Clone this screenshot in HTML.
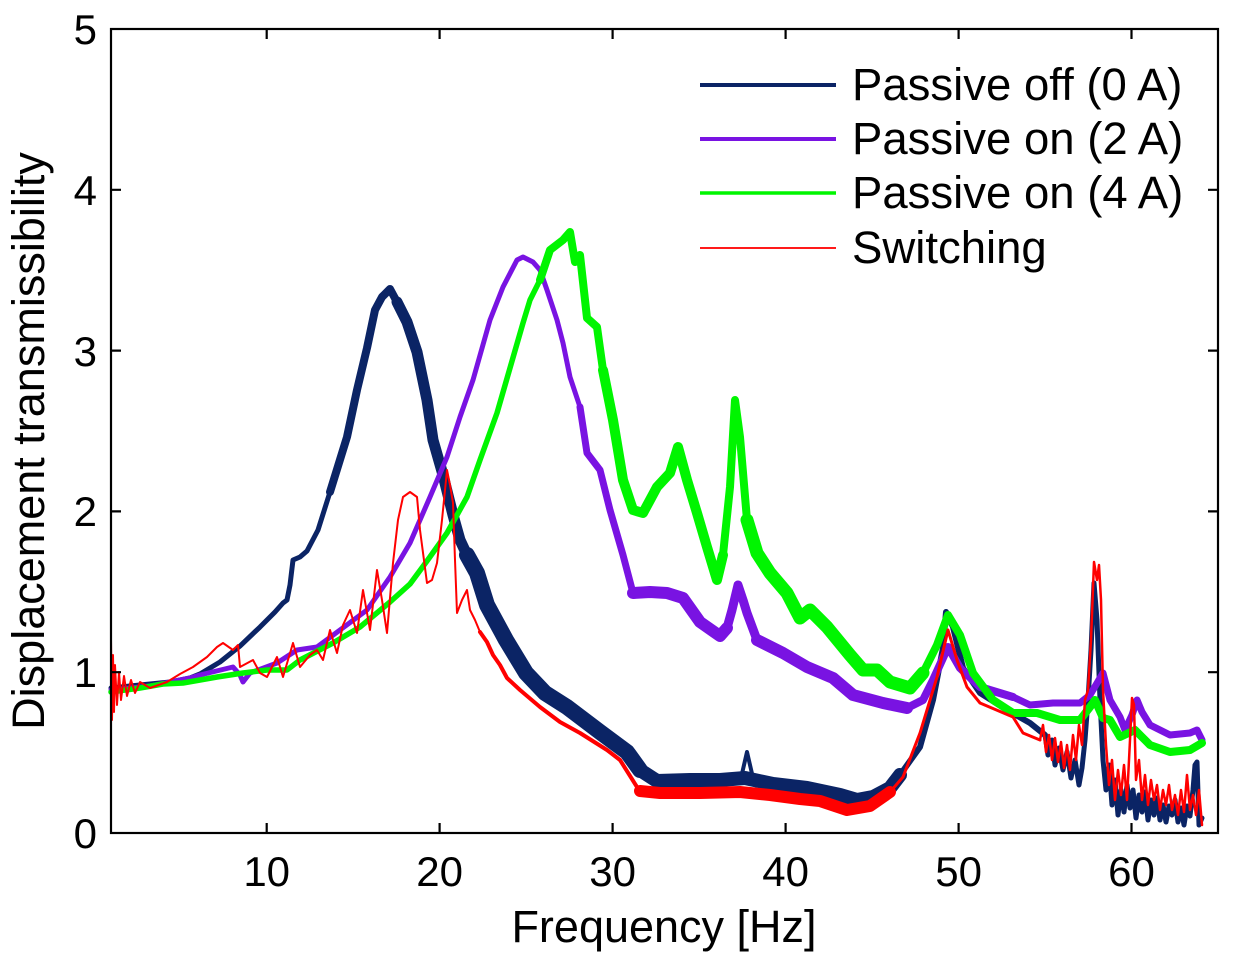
<!DOCTYPE html>
<html><head><meta charset="utf-8"><style>
html,body{margin:0;padding:0;background:#fff;}
svg{display:block;}
text{font-family:"Liberation Sans",Arial,sans-serif;fill:#000;}
</style></head><body>
<svg width="1233" height="965" viewBox="0 0 1233 965" xmlns="http://www.w3.org/2000/svg">
<rect width="1233" height="965" fill="#fff"/>
<g fill="none" stroke-linejoin="round" stroke-linecap="round">
<!-- navy: Passive off -->
<g stroke="#0b2465">
<polyline stroke-width="5" points="111,688 130,686 150,684 170,682 190,678 200,674 220,662 240,646 260,627 275,612 283,603 287,600 290,585 293,560 300,557 307,551 318,530 330,492"/>
<polyline stroke-width="8" points="330,492 347,437 357,390 367,348 375,310 382,297 390,289 397,302"/>
<polyline stroke-width="11" points="397,302 407,322 417,352 427,400 433,440 443,475 453,515 460,540 467,555"/>
<polyline stroke-width="16" points="467,555 477,573 487,605 506,640 526,673 545,693 567,707 600,732 627,752 640,770"/>
<polyline stroke-width="14" points="640,770 657,781 690,780 720,780 745,778 773,784 807,788 840,795 857,800 873,797 890,788 900,775"/>
<polyline stroke-width="4" points="741,778 747,752 753,778"/>
<polyline stroke-width="6" points="900,775 920,747 933,700 943,648 946,612 953,627 963,668 980,693 1007,710 1030,723 1045,735"/>
<polyline stroke-width="5" points="1045,735 1048,755 1052,740 1055,765 1059,748 1063,770 1067,752 1071,778 1075,760 1079,785 1082,768 1085,740 1088,700 1091,650 1094,583 1097,620 1100,700 1103,760 1106,790 1109,765 1112,805 1115,780 1118,815 1121,790 1124,812 1127,785 1130,808 1133,790 1136,818 1139,795 1142,812 1145,792 1148,820 1151,800 1154,815 1157,798 1160,820 1163,805 1166,822 1169,806 1172,815 1175,800 1178,822 1181,808 1184,825 1187,806 1190,816 1193,790 1195,765 1197,762 1199,825 1202,818"/>
</g>
<!-- purple: Passive on 2A -->
<g stroke="#7913e2">
<polyline stroke-width="5" points="111,690 150,686 190,678 200,675 233,667 240,675 243,682 250,673 277,663 297,650 317,647 340,630 367,610 390,577 410,543 430,497 447,457 460,417 473,380 490,320 503,287 517,260 523,257 533,262 540,270 547,290 557,320 563,343 570,377 580,407"/>
<polyline stroke-width="7" points="580,407 587,453 600,470 610,510 623,555 633,593"/>
<polyline stroke-width="12" points="633,593 650,592 667,593 683,598 700,622 720,636 727,628"/>
<polyline stroke-width="9" points="727,628 732,610 738,585 743,600 747,613 757,640"/>
<polyline stroke-width="12" points="757,640 783,653 807,667 833,678 853,695 883,703 907,708"/>
<polyline stroke-width="8" points="907,708 923,700 933,680 948,647 960,668 980,687 1013,697"/>
<polyline stroke-width="7" points="1013,697 1030,705 1053,703 1080,703 1090,695 1103,673 1110,700 1120,717 1125,730 1132,715 1137,700 1142,712 1150,725 1170,735 1190,733 1197,730 1202,740"/>
</g>
<!-- green: Passive on 4A -->
<g stroke="#00f500">
<polyline stroke-width="5.5" points="111,692 140,688 163,684 183,683 217,677 243,673 267,670 287,670 300,660 333,643 360,627 390,602 410,584 427,561 447,533 467,497 480,460 497,413 510,368 523,323 530,300 540,280"/>
<polyline stroke-width="8" points="540,280 550,250 563,240 570,232 575,262 580,255 587,318 597,327 603,370"/>
<polyline stroke-width="10" points="603,370 613,420 623,480 633,510 643,513 657,487 670,473 678,447 687,480 697,513 707,547 717,580 723,555"/>
<polyline stroke-width="8" points="723,555 730,487 735,400 740,437 747,520"/>
<polyline stroke-width="13" points="747,520 757,553 770,573 787,593 800,618 810,610 827,627 850,655 863,670 877,670 890,682 910,688 923,673"/>
<polyline stroke-width="8" points="923,673 937,645 948,615 960,635 973,673 993,700 1013,713 1037,713 1060,720 1080,720 1090,707 1095,700 1103,718 1110,720 1120,737 1135,730 1150,745 1170,752 1190,750 1202,743"/>
</g>
<!-- red: Switching -->
<g stroke="#ff0000">
<polyline stroke-width="2" points="111,640 112,720 113,655 114,712 115,665 117,705 119,672 121,700 124,676 127,696 131,680 135,693 140,682 150,688 167,682 180,674 193,667 207,657 217,647 223,643 233,650 238,645 240,667 253,660 260,673 267,677 277,657 283,677 293,643 300,667 310,655 317,650 323,660 330,630 337,653 343,625 350,610 357,633 363,590 370,630 377,570 382,600 387,633 393,563 398,520 403,497 410,492 417,497 420,530 427,583 432,580 437,563 442,520 447,470 450,485 453,503 455,560 457,613 462,600 467,590 470,610 475,620 480,632"/>
<polyline stroke-width="4" points="480,632 487,642 493,655 500,665 507,678 520,690 540,707 560,722 580,733 607,750 620,760 637,787"/>
<polyline stroke-width="12" points="640,791 660,793 700,793 740,792 770,795 800,799 820,801 847,810 870,806 890,792"/>
<polyline stroke-width="3" points="890,792 903,777 920,733 937,677 948,630 957,660 967,687 980,703 1013,717 1023,733 1040,740"/>
<polyline stroke-width="2.5" points="1040,740 1043,725 1046,752 1049,735 1052,760 1055,738 1058,762 1061,742 1064,768 1067,745 1070,770 1073,735 1076,760 1079,725 1082,745 1085,700 1088,690 1091,640 1094,562 1097,580 1099,565 1101,600 1103,690 1106,745 1109,785 1112,760 1115,800 1118,770 1121,795 1124,765 1127,800 1130,740 1132,698 1134,705 1136,780 1139,760 1142,800 1145,775 1148,805 1151,780 1154,800 1157,785 1160,810 1163,790 1166,805 1169,785 1172,810 1175,795 1178,815 1181,790 1184,812 1187,775 1190,810 1193,795 1196,815 1199,790 1202,825"/>
</g>
</g>
<!-- axes -->
<g stroke="#000" stroke-width="2.2" fill="none">
<rect x="111" y="29" width="1107" height="804"/>
<path d="M266.7,833v-10M439.6,833v-10M612.6,833v-10M785.6,833v-10M958.6,833v-10M1131.5,833v-10
M266.7,29v10M439.6,29v10M612.6,29v10M785.6,29v10M958.6,29v10M1131.5,29v10
M111,672.2h10M111,511.4h10M111,350.6h10M111,189.8h10
M1218,672.2h-10M1218,511.4h-10M1218,350.6h-10M1218,189.8h-10"/>
</g>
<g font-size="42" text-anchor="end">
<text x="97" y="848">0</text>
<text x="97" y="687">1</text>
<text x="97" y="526">2</text>
<text x="97" y="366">3</text>
<text x="97" y="205">4</text>
<text x="97" y="44">5</text>
</g>
<g font-size="42" text-anchor="middle">
<text x="266.7" y="886">10</text>
<text x="439.6" y="886">20</text>
<text x="612.6" y="886">30</text>
<text x="785.6" y="886">40</text>
<text x="958.6" y="886">50</text>
<text x="1131.5" y="886">60</text>
</g>
<text x="664" y="942" font-size="45" text-anchor="middle">Frequency [Hz]</text>
<text transform="translate(44,441) rotate(-90)" font-size="45" text-anchor="middle">Displacement transmissibility</text>
<!-- legend -->
<g stroke-linecap="butt">
<line x1="700" y1="85" x2="836" y2="85" stroke="#0b2465" stroke-width="4"/>
<line x1="700" y1="139" x2="836" y2="139" stroke="#7913e2" stroke-width="4"/>
<line x1="700" y1="193" x2="836" y2="193" stroke="#00f500" stroke-width="3.5"/>
<line x1="700" y1="248" x2="836" y2="248" stroke="#ff1a1a" stroke-width="2"/>
</g>
<g font-size="45.5">
<text x="852" y="100">Passive off (0 A)</text>
<text x="852" y="154">Passive on (2 A)</text>
<text x="852" y="208">Passive on (4 A)</text>
<text x="852" y="263">Switching</text>
</g>
</svg>
</body></html>
